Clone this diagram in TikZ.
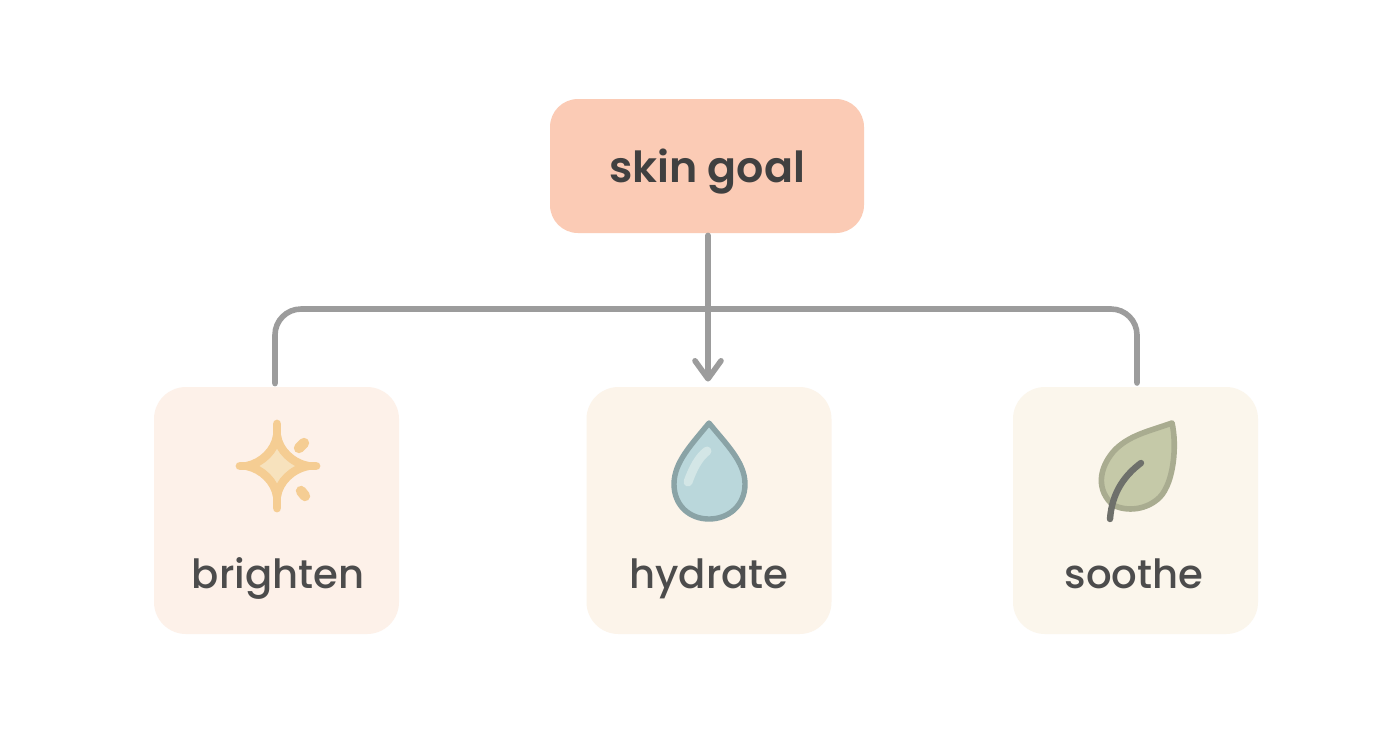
\documentclass[tikz,border=0pt]{standalone}
\usepackage{fontspec}
\setmainfont{Poppins Medium}
\newfontfamily\goalfont{Poppins SemiBold}
\usetikzlibrary{arrows.meta}
\definecolor{goalc}{HTML}{FBCBB5}
\definecolor{card1}{HTML}{FDF1E9}
\definecolor{card2}{HTML}{FCF4EA}
\definecolor{card3}{HTML}{FBF6EC}
\definecolor{linec}{HTML}{9C9C9C}
\definecolor{txt}{HTML}{4C4C4C}
\definecolor{txtg}{HTML}{404040}
\definecolor{starc}{HTML}{F5CD93}
\definecolor{starf}{HTML}{F7E2BD}
\definecolor{dropc}{HTML}{8AA3A6}
\definecolor{dropf}{HTML}{BAD7DB}
\definecolor{dropg}{HTML}{D3E6E6}
\definecolor{leafc}{HTML}{A9AC90}
\definecolor{leaff}{HTML}{C5C9A8}
\definecolor{stem}{HTML}{6E706B}
\tikzset{
  x=0.5pt,y=-0.5pt,
  card/.style={draw=none,rounded corners=16pt,minimum width=122.5pt,minimum height=123.5pt,inner sep=0pt},
  goal/.style={draw=none,fill=goalc,rounded corners=14pt,minimum width=157pt,minimum height=67pt,inner sep=0pt},
  lbl/.style={text=txt,font=\fontsize{20.1}{22}\selectfont,inner sep=0pt,anchor=base},
  conn/.style={draw=linec,line width=2.8pt,line cap=round},
}
\begin{document}
\begin{tikzpicture}
\useasboundingbox (0,0) rectangle (1392,752);
\fill[white] (0,0) rectangle (1392,752);
\node[goal] (g) at (707,166) {};
\node[lbl,text=txtg,font=\goalfont\fontsize{21.4}{24}\selectfont] (gt) at (707,182) {skin goal};
\node[card,fill=card1] (a) at (276.5,510.5) {};
\node[card,fill=card2] (b) at (709,510.5) {};
\node[card,fill=card3] (c) at (1135.5,510.5) {};
\node[lbl] (at) at (278,588) {brighten};
\node[lbl] (bt) at (709,588) {hydrate};
\node[lbl] (ct) at (1134,588) {soothe};
% connectors
\coordinate (bus) at (708,309);
\coordinate (busl) at (275,309);
\coordinate (busr) at (1137,309);
\draw[conn,rounded corners=13pt] (busl |- a.north) ++(0,-3) -- (busl) -- (bus) -- (busr) -- ++(0,74);
\draw[conn,-{Straight Barb[length=9pt,width=13pt,line width=2.8pt,round]}] (bus |- g.south) ++(0,2) -- ([yshift=2.5pt]bus |- b.north);
% star
\begin{scope}[shift={(278,466)}]
\draw[starc,line width=4.4pt,line cap=round]
 (-1,-42) -- (-1,-28) (-1,42) -- (-1,28) (-38,0) -- (-28,0) (38,0) -- (28,0);
\draw[starc,fill=starf,line width=4.2pt,line join=round]
 (-1,-30) .. controls (1,-16) and (14,-3) .. (30,0) .. controls (14,3) and (1,16) .. (-1,30) .. controls (-3,16) and (-16,3) .. (-31,0) .. controls (-16,-3) and (-3,-16) .. (-1,-30) -- cycle;
\draw[starc,line width=5.2pt,line cap=round] (21,-18) -- (26,-23);
\draw[starc,line width=5.2pt,line cap=round] (23,25) -- (27,30);
\end{scope}
% drop
\draw[dropc,fill=dropf,line width=2.7pt,line join=round]
 (709,423) .. controls (692,444) and (674,462) .. (674,484) .. controls (674,506) and (690,519) .. (709,519)
 .. controls (728,519) and (745,506) .. (745,484) .. controls (745,462) and (726,444) .. (709,423) -- cycle;
\draw[dropg,line width=4.5pt,line cap=round] (707,451) .. controls (699,457) and (693,468) .. (688,482);
% leaf
\draw[leafc,fill=leaff,line width=2.8pt,line join=round]
 (1172,423) .. controls (1150,431) and (1128,435) .. (1113,452) .. controls (1098,470) and (1097,491) .. (1113,505)
 .. controls (1127,512) and (1147,510) .. (1160,497) .. controls (1174,482) and (1177,445) .. (1172,423) -- cycle;
\draw[stem,line width=3.2pt,line cap=round] (1141,463) .. controls (1125,475) and (1112,492) .. (1110,519);
\end{tikzpicture}
\end{document}
